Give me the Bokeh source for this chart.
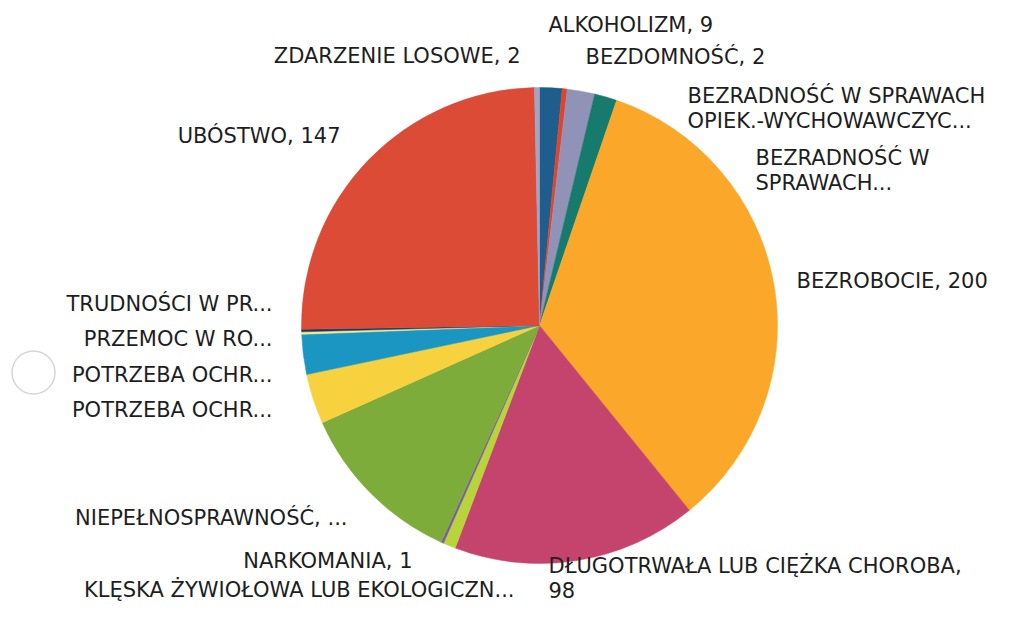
import math
import pandas as pd
from bokeh.plotting import figure
from bokeh.models import ColumnDataSource, Range1d
from bokeh.core.properties import value
from bokeh.embed import file_html
from bokeh.resources import INLINE

categories = [
    "ALKOHOLIZM", "BEZDOMNOŚĆ", "BEZRADNOŚĆ W SPRAWACH OPIEK.-WYCHOWAWCZYCH",
    "BEZRADNOŚĆ W SPRAWACH", "BEZROBOCIE", "DŁUGOTRWAŁA LUB CIĘŻKA CHOROBA",
    "KLĘSKA ŻYWIOŁOWA LUB EKOLOGICZNA", "NARKOMANIA", "NIEPEŁNOSPRAWNOŚĆ",
    "POTRZEBA OCHRONY 1", "POTRZEBA OCHRONY 2", "PRZEMOC W RODZINIE",
    "TRUDNOŚCI W PRZYSTOSOWANIU", "UBÓSTWO", "ZDARZENIE LOSOWE",
]
values = [9, 2, 11, 9, 200, 98, 5, 1, 68, 20, 16, 1, 1, 147, 2]
colors = [
    "#1f5d8c", "#e0452b", "#9192b8", "#167a6d", "#fba82a", "#c4446d",
    "#b8d43a", "#7a5aa8", "#7dac3b", "#f8d23e", "#1b96c3", "#f3ee8e",
    "#1d3866", "#dc4b36", "#a3a3c4",
]
labels = [
    "ALKOHOLIZM, 9", "BEZDOMNOŚĆ, 2", "BEZRADNOŚĆ W SPRAWACH\nOPIEK.-WYCHOWAWCZYC...",
    "BEZRADNOŚĆ W\nSPRAWACH...", "BEZROBOCIE, 200", "DŁUGOTRWAŁA LUB CIĘŻKA CHOROBA,\n98",
    "KLĘSKA ŻYWIOŁOWA LUB EKOLOGICZN...", "NARKOMANIA, 1", "NIEPEŁNOSPRAWNOŚĆ, ...",
    "POTRZEBA OCHR...", "POTRZEBA OCHR...", "PRZEMOC W RO...",
    "TRUDNOŚCI W PR...", "UBÓSTWO, 147", "ZDARZENIE LOSOWE, 2",
]

# layout in picture pixels (data y = H - picture y)
H = 621
CX, CY, R = 539, H - 325, 238
label_pos = [  # (x, picture y, align)
    (548, 24, "left"), (585, 56, "left"), (687, 108, "left"),
    (755, 170, "left"), (796, 280, "left"), (548, 578, "left"),
    (514, 589, "right"), (412, 560, "right"), (347, 517, "right"),
    (272, 409, "right"), (272, 374, "right"), (272, 338, "right"),
    (272, 303, "right"), (340, 135, "right"), (520, 55, "right"),
]

df = pd.DataFrame({"cat": categories, "val": values, "color": colors})
total = df["val"].sum()
cum = df["val"].cumsum()
df["end"] = math.pi / 2 - cum / total * 2 * math.pi
df["start"] = math.pi / 2 - (cum - df["val"]) / total * 2 * math.pi
src = ColumnDataSource(df)

p = figure(width=994, height=605, output_backend="svg", toolbar_location=None,
           x_range=Range1d(0, 994), y_range=Range1d(H - 605, H),
           min_border=0, outline_line_color=None)
p.axis.visible = False
p.grid.visible = False

p.wedge(x=CX, y=CY, radius=R, start_angle="start", end_angle="end",
        direction="clock", fill_color="color", line_color="color",
        line_width=0.5, source=src)

# decorative hollow circle at left
p.scatter(x=[33], y=[H - 372], size=43, marker="circle", fill_color=None,
          line_color="#d6d6d6", line_width=1.5)

lx = [q[0] for q in label_pos]
ly = [H - q[1] for q in label_pos]
la = [q[2] for q in label_pos]
lsrc = ColumnDataSource(dict(x=lx, y=ly, t=labels, a=la))
p.text(x="x", y="y", text="t", text_align="a", text_baseline="middle",
       text_font=value("DejaVu Sans"), text_font_size="21px",
       text_color="#1e1e1e", text_line_height=1.02, source=lsrc)

open("out.html", "w").write(file_html(p, INLINE))
